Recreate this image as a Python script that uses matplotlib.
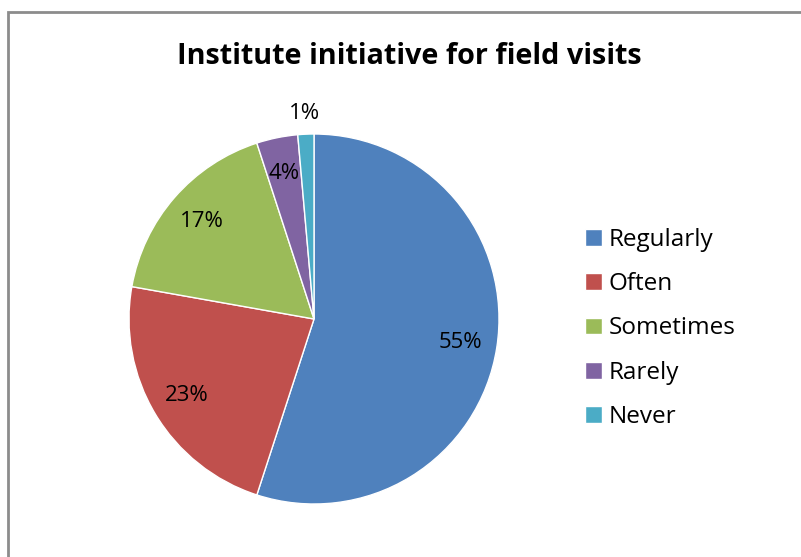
import matplotlib
matplotlib.use("Agg")
import matplotlib.pyplot as plt
from matplotlib.patches import Rectangle
import numpy as np

categories = ["Regularly", "Often", "Sometimes", "Rarely", "Never"]
values = [55.0, 22.8, 17.2, 3.6, 1.4]
colors = ["#4F81BD", "#C0504D", "#9BBB59", "#8064A2", "#4BACC6"]
title = "Institute initiative for field visits"

plt.rcParams['font.family'] = ['Open Sans', 'DejaVu Sans']

W, H = 801, 557
fig = plt.figure(figsize=(W / 100, H / 100), dpi=100)
fig.patch.set_facecolor("white")

# chart border (partially cropped at right/bottom)
fig.patches.append(Rectangle((7.5 / W, -0.1), 2.0, (H - 11.5) / H + 0.1,
                             transform=fig.transFigure, fill=False,
                             edgecolor="#8c8c8c", linewidth=2, zorder=0))

cx, cy, R = 314, 319, 185
ax = fig.add_axes([(cx - R) / W, (H - cy - R) / H, 2 * R / W, 2 * R / H])
wedges, texts, autotexts = ax.pie(values, colors=colors, startangle=90,
                                  counterclock=False, autopct='%.0f%%',
                                  pctdistance=0.8,
                                  wedgeprops=dict(edgecolor="white", linewidth=1),
                                  textprops=dict(fontsize=16, color="black"))
ax.set_xlim(-1, 1)
ax.set_ylim(-1, 1)
ax.set_aspect('equal')

# small slice label placed outside
w = wedges[-1]
ang = np.deg2rad((w.theta1 + w.theta2) / 2)
autotexts[-1].set_position((1.11 * np.cos(ang), 1.11 * np.sin(ang)))

fig.text(409 / W, 1 - 56 / H, title, ha='center', va='center',
         fontsize=20.7, fontweight='bold')

leg = fig.legend(wedges, categories, loc='center left',
                 bbox_to_anchor=(563 / W, 1 - 328.5 / H), frameon=False,
                 fontsize=17.5, handlelength=0.69, handleheight=0.69,
                 handletextpad=0.3, labelspacing=0.83)

fig.savefig("out.png", dpi=100)
